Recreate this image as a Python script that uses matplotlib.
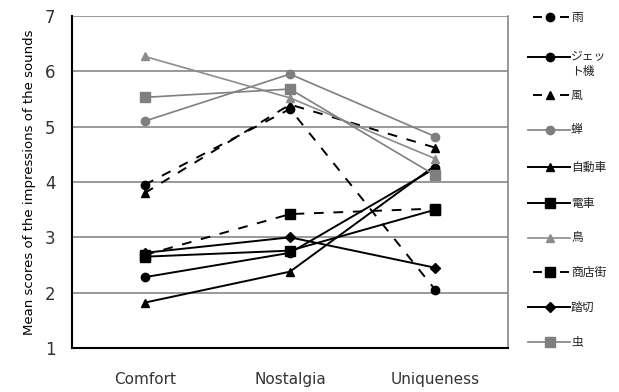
import matplotlib.pyplot as plt
from matplotlib.lines import Line2D

plt.rcParams['font.family'] = ['DejaVu Sans', 'Noto Sans CJK JP']

categories = ["Comfort", "Nostalgia", "Uniqueness"]
names = ["雨", "ジェッ\nト機", "風", "蝉", "自動車", "電車", "鳥", "商店街", "踏切", "虫"]
values = [
    [3.95, 5.32, 2.05],   # 雨
    [2.28, 2.72, 4.25],   # ジェット機
    [3.80, 5.40, 4.62],   # 風
    [5.10, 5.95, 4.82],   # 蝉
    [1.82, 2.38, 4.30],   # 自動車
    [2.65, 2.76, 3.50],   # 電車
    [6.27, 5.52, 4.42],   # 鳥
    [2.68, 3.42, 3.52],   # 商店街
    [2.72, 3.00, 2.45],   # 踏切
    [5.53, 5.68, 4.12],   # 虫
]
markers = ["o", "o", "^", "o", "^", "s", "^", "s", "D", "s"]
colors = ["black", "black", "black", "#7f7f7f", "black", "black", "#8c8c8c", "black", "black", "#7f7f7f"]
styles = ["dashed", "solid", "dashed", "solid", "solid", "solid", "solid", "dashed", "solid", "solid"]
msizes = [6, 6, 6, 6, 6, 7, 6, 7, 5, 7]

W, H = 619, 392
fig = plt.figure(figsize=(W / 100, H / 100), dpi=100)
ax = fig.add_axes([72 / W, 1 - 348 / H, 436 / W, 332 / H])

x = [0.5, 1.5, 2.5]
for name, vals, m, c, ls, ms in zip(names, values, markers, colors, styles, msizes):
    lw = 1.4 if c == "black" else 1.2
    dash = (0, (5, 5)) if ls == "dashed" else "-"
    ax.plot(x, vals, marker=m, color=c, linestyle=dash, linewidth=lw,
            markersize=ms, markeredgecolor=c, zorder=3)

ax.set_xlim(0, 3)
ax.set_ylim(1, 7)
ax.set_yticks(range(1, 8))
ax.set_xticks(x)
ax.set_xticklabels(categories, fontsize=11, color="#333333")
ax.tick_params(axis="y", labelsize=12, length=0, pad=12, colors="#333333")
ax.tick_params(axis="x", length=0, pad=17)
for yy in range(2, 8):
    ax.axhline(yy, color="#888888", linewidth=1.2, zorder=1)
ax.spines["left"].set_linewidth(1.5)
ax.spines["bottom"].set_linewidth(1.5)
ax.spines["top"].set_visible(False)
ax.spines["right"].set_color("#888888")
ax.spines["right"].set_linewidth(1.2)
ax.set_ylabel("Mean scores of the impressions of the sounds", fontsize=9.5, labelpad=6)

# hand-drawn legend on the right, in figure pixel coordinates
legend_y = [17, 57, 95, 130, 167, 203, 238, 272, 307, 342]
def fx(px):
    return px / W
def fy(py):
    return 1 - py / H

for name, m, c, ls, ms, py in zip(names, markers, colors, styles, msizes, legend_y):
    lw = 1.4 if c == "black" else 1.2
    if ls == "dashed":
        segs = [(534, 541), (561, 568)]
    else:
        segs = [(528, 570)]
    for a, b in segs:
        fig.add_artist(Line2D([fx(a), fx(b)], [fy(py), fy(py)], color=c, linewidth=lw,
                              transform=fig.transFigure))
    fig.add_artist(Line2D([fx(550)], [fy(py)], marker=m, markersize=ms, color=c,
                          linestyle="none", transform=fig.transFigure))
    for k, part in enumerate(name.split("\n")):
        fig.text(fx(571), fy(py + k * 14), part, fontsize=8.5, va="center", ha="left",
                 color="#222222")

fig.savefig("out.png", dpi=100)
